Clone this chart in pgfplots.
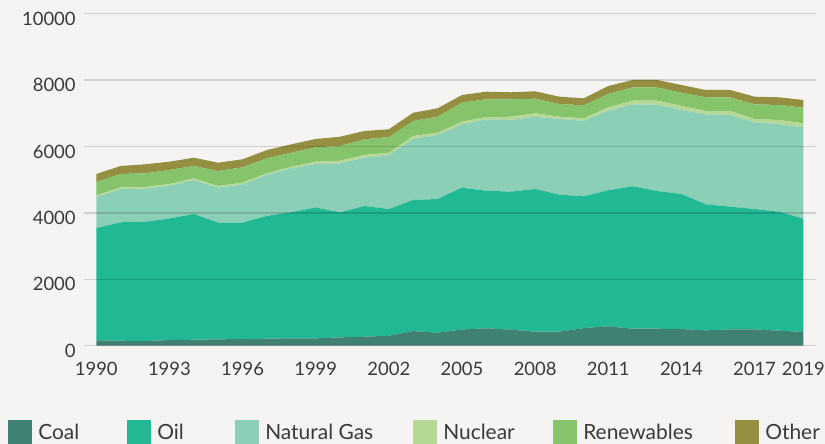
\documentclass[border=0pt]{standalone}
\usepackage{pgfplots}
\pgfplotsset{compat=1.18}
\usepackage{pgfplotstable}
\usepackage{fontspec}
\setmainfont{Lato}
\definecolor{bg}{HTML}{F5F4F2}
\definecolor{ccoal}{HTML}{3F8273}
\definecolor{coil}{HTML}{20B994}
\definecolor{cgas}{HTML}{8CCFB7}
\definecolor{cnuc}{HTML}{B6D897}
\definecolor{cren}{HTML}{86C46B}
\definecolor{coth}{HTML}{948F41}
\definecolor{txt}{HTML}{3A3A3A}
\pgfplotstableread{
year coal oil gas nuclear renew other
1990 161 3384 934 51 401 241
1991 151 3566 1003 51 401 241
1992 141 3589 999 51 413 271
1993 171 3659 989 51 422 250
1994 181 3786 1024 51 371 250
1995 191 3514 1054 51 452 250
1996 201 3504 1156 49 463 241
1997 211 3701 1229 52 451 251
1998 221 3801 1321 48 422 253
1999 221 3942 1310 69 434 250
2000 251 3767 1476 78 443 280
2001 271 3937 1455 81 473 250
2002 301 3816 1618 78 473 232
2003 442 3947 1846 81 452 250
2004 391 4028 1927 70 481 254
2005 490 4269 1909 79 572 232
2006 525 4144 2150 69 534 229
2007 482 4157 2159 99 525 211
2008 422 4298 2177 103 440 223
2009 422 4126 2280 69 383 220
2010 532 3968 2277 72 392 211
2011 582 4099 2397 103 400 241
2012 512 4289 2470 108 404 220
2013 512 4148 2599 120 398 226
2014 502 4067 2530 121 400 232
2015 462 3797 2711 99 413 220
2016 492 3695 2762 120 413 220
2017 492 3625 2612 99 443 229
2018 452 3584 2642 120 452 232
2019 412 3413 2753 121 470 232
}\energy
\begin{document}
\begin{tikzpicture}
\fill[bg] (-84.1bp,-98.3bp) rectangle (740.9bp,345.7bp);
\useasboundingbox (-84.1bp,-98.3bp) rectangle (740.9bp,345.7bp);
\begin{axis}[
  at={(0,0)}, anchor=south west,
  scale only axis, width=731.4bp, height=332bp,
  xmin=1989.5, xmax=2019.5, ymin=0, ymax=10000,
  stack plots=y,
  axis line style={draw=none},
  major tick length=0pt,
  xtick={1990,1993,1996,1999,2002,2005,2008,2011,2014,2017,2019},
  ytick={0,2000,4000,6000,8000,10000},
  /pgf/number format/1000 sep={},
  /pgf/number format/assume math mode=true,
  scaled y ticks=false,
  tick label style={font=\fontsize{18.5}{22}\selectfont, text=txt},
  yticklabel style={xshift=-5bp, yshift=-5bp},
  xticklabel style={yshift=-13bp},
  ymajorgrids,
  grid style={black, opacity=0.15, line width=1.3bp},
  axis on top,
  legend columns=6,
  legend style={at={(axis description cs:0,0)}, anchor=north west,
    xshift=-76bp, yshift=-74.3bp, draw=none, fill=none, inner sep=0pt,
    font=\fontsize{21}{24}\selectfont, text=txt, cells={anchor=west},
    nodes={inner sep=0pt}},
  legend image code/.code={\fill[#1] (0bp,-12bp) rectangle (24bp,12bp); \path (30bp,0bp);},
]
\addplot[fill=ccoal, draw=none] table[x=year,y=coal]{\energy} \closedcycle;
\addlegendentry{\makebox[89bp][l]{Coal}}
\addplot[fill=coil, draw=none] table[x=year,y=oil]{\energy} \closedcycle;
\addlegendentry{\makebox[78bp][l]{Oil}}
\addplot[fill=cgas, draw=none] table[x=year,y=gas]{\energy} \closedcycle;
\addlegendentry{\makebox[148bp][l]{Natural Gas}}
\addplot[fill=cnuc, draw=none] table[x=year,y=nuclear]{\energy} \closedcycle;
\addlegendentry{\makebox[110bp][l]{Nuclear}}
\addplot[fill=cren, draw=none] table[x=year,y=renew]{\energy} \closedcycle;
\addlegendentry{\makebox[152bp][l]{Renewables}}
\addplot[fill=coth, draw=none] table[x=year,y=other]{\energy} \closedcycle;
\addlegendentry{\makebox[60bp][l]{Other}}
\end{axis}
\end{tikzpicture}
\end{document}
